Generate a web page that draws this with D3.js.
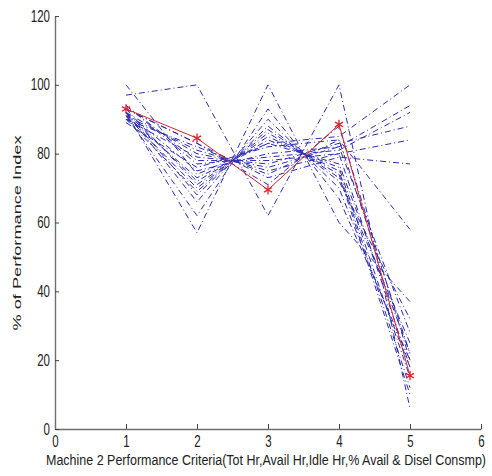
<!DOCTYPE html>
<html>
<head>
<meta charset="utf-8">
<script src="https://cdn.jsdelivr.net/npm/d3@7"></script>
<style>
  html, body { margin: 0; padding: 0; background: #fff; }
  text { font-family: "Liberation Sans", Arial, sans-serif; fill: #222; }
</style>
</head>
<body>
<div id="vis"></div>
<script>
const width = 492, height = 476;
const margin = {top: 16, right: 11, bottom: 47, left: 55};

// criteria positions on x
const criteria = [1, 2, 3, 4, 5];
const xTicks = [0, 1, 2, 3, 4, 5, 6];
const yTicks = [0, 20, 40, 60, 80, 100, 120];

// blue dash-dot series (one array per series)
const blueSeries = [
  [97, 100, 62, 100, 6],
  [100, 74, 83, 77, 22],
  [92, 57, 100, 60, 37],
  [91, 62, 93, 67, 20],
  [92, 66, 90, 70, 18],
  [90, 69, 87, 73, 25],
  [93, 71, 85, 75, 12],
  [91, 73, 83, 85, 100],
  [92, 75, 80, 82, 94],
  [94, 77, 79, 81, 92],
  [90, 79, 77, 83, 88],
  [91, 81, 75, 80, 84],
  [93, 83, 73, 79, 77],
  [89, 76, 82, 84, 58],
  [92, 80, 76, 82, 28],
  [90, 82, 74, 84, 22],
  [94, 78, 78, 80, 18],
  [91, 70, 86, 74, 10],
  [92, 68, 88, 72, 32],
  [93, 83, 71, 88, 20],
  [92, 72, 84, 76, 15]
];
// red series with star markers
const redSeries = [93, 84.5, 69.5, 88.5, 15.5];

const sx = 0.72; // horizontal squeeze of the original picture's text

const svg = d3.select('#vis')
  .append('svg')
  .attr('width', width)
  .attr('height', height);

const x = d3.scaleLinear().domain([0, 6]).range([margin.left, width - margin.right]);
const y = d3.scaleLinear().domain([0, 120]).range([height - margin.bottom, margin.top]);

const line = d3.line()
  .x((d, i) => x(criteria[i]))
  .y(d => y(d));

svg.append('g')
  .selectAll('path')
  .data(blueSeries)
  .join('path')
  .attr('d', line)
  .attr('fill', 'none')
  .attr('stroke', '#2b2bb0')
  .attr('stroke-width', 1)
  .attr('stroke-dasharray', '6,3,1,3');

svg.append('path')
  .datum(redSeries)
  .attr('d', line)
  .attr('fill', 'none')
  .attr('stroke', '#d8262b')
  .attr('stroke-width', 1);

svg.append('g')
  .selectAll('path')
  .data(redSeries)
  .join('path')
  .attr('transform', (d, i) => `translate(${x(criteria[i])},${y(d)})`)
  .attr('d', d3.symbol(d3.symbolAsterisk, 60))
  .attr('fill', 'none')
  .attr('stroke', '#e0202a')
  .attr('stroke-width', 1.3);

// axes
const xAxis = svg.append('g')
  .attr('transform', `translate(0,${y(0)})`)
  .call(d3.axisBottom(x).tickValues(xTicks).tickFormat(d3.format('d'))
    .tickSizeInner(-5).tickSizeOuter(0).tickPadding(7));

const yAxis = svg.append('g')
  .attr('transform', `translate(${x(0)},0)`)
  .call(d3.axisLeft(y).tickValues(yTicks).tickFormat(d3.format('d'))
    .tickSizeInner(-4).tickSizeOuter(0).tickPadding(5));

[xAxis, yAxis].forEach(g => {
  g.select('.domain').attr('stroke', '#6e6e6e').attr('stroke-width', 1.4);
  g.selectAll('.tick line').attr('stroke', '#444');
  g.selectAll('text')
    .attr('font-size', 16)
    .attr('font-family', '"Liberation Sans", Arial, sans-serif')
    .attr('fill', '#222')
    .attr('transform', `scale(${sx},1)`);
});
yAxis.selectAll('text').attr('x', -5 / sx);

// axis titles (squeezed like the original)
svg.append('text')
  .attr('transform', `translate(266,465) scale(${sx},1)`)
  .attr('text-anchor', 'middle')
  .attr('font-size', 15)
  .attr('textLength', 440 / sx)
  .attr('lengthAdjust', 'spacingAndGlyphs')
  .text('Machine 2 Performance Criteria(Tot Hr,Avail Hr,Idle Hr,% Avail & Disel Consmp)');

svg.append('text')
  .attr('transform', `translate(21,233) scale(${sx},1) rotate(-90)`)
  .attr('text-anchor', 'middle')
  .attr('font-size', 16)
  .attr('textLength', 195)
  .attr('lengthAdjust', 'spacingAndGlyphs')
  .text('% of Performance Index');
</script>
</body>
</html>
